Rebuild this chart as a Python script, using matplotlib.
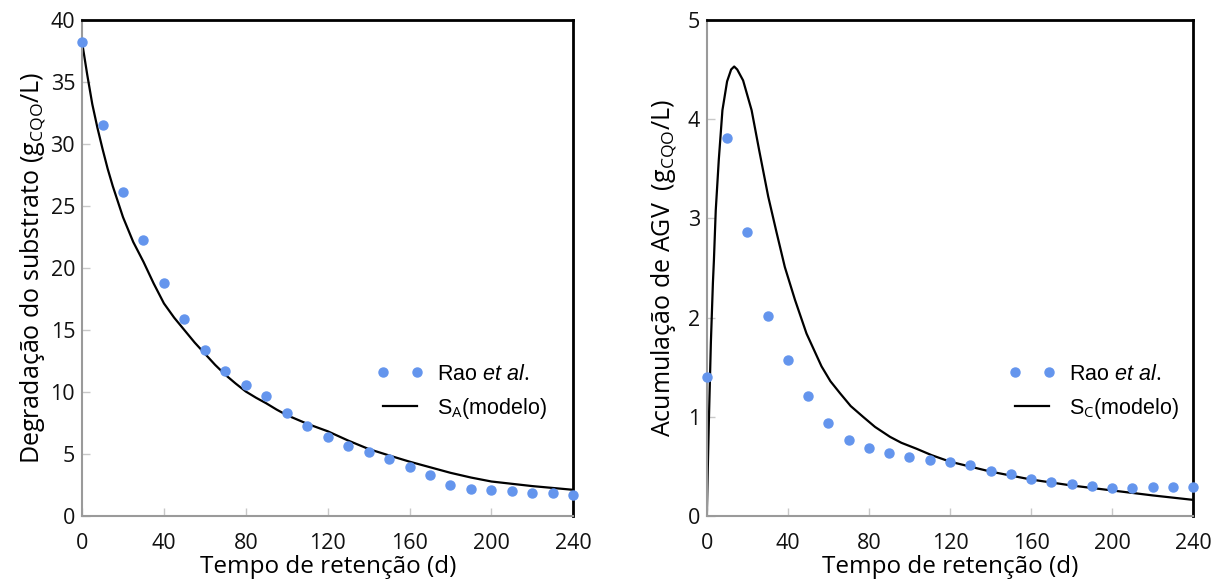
import numpy as np
import matplotlib
matplotlib.use("Agg")
import matplotlib.pyplot as plt

plt.rcParams['font.family'] = ['Open Sans', 'DejaVu Sans']
plt.rcParams['mathtext.fontset'] = 'custom'
plt.rcParams['mathtext.rm'] = 'Open Sans'
plt.rcParams['mathtext.it'] = 'Liberation Sans:italic'

# experimental points (Rao et al.), every 10 days
t_data = [0, 10, 20, 30, 40, 50, 60, 70, 80, 90, 100, 110, 120,
          130, 140, 150, 160, 170, 180, 190, 200, 210, 220, 230, 240]
sa_data = [38.2, 31.5, 26.1, 22.3, 18.8, 15.9, 13.4, 11.7, 10.6, 9.7, 8.3, 7.3, 6.4,
           5.7, 5.2, 4.6, 4.0, 3.3, 2.5, 2.2, 2.1, 2.0, 1.9, 1.85, 1.75]
sc_data = [1.40, 3.81, 2.86, 2.02, 1.57, 1.21, 0.94, 0.77, 0.69, 0.64, 0.60, 0.57, 0.55,
           0.52, 0.46, 0.43, 0.38, 0.35, 0.32, 0.30, 0.28, 0.28, 0.29, 0.29, 0.29]

# model curves
t_sa = [0, 2.5, 5, 7.5, 10, 12.5, 15, 20, 25, 30, 35, 40, 45, 50, 55, 60, 65, 70, 75,
        80, 85, 90, 95, 100, 110, 120, 130, 140, 150, 160, 170, 180, 190, 200, 220, 240]
sa_model = [38.2, 35.6, 33.2, 31.3, 29.6, 28.0, 26.6, 24.1, 22.1, 20.5, 18.75, 17.15,
            16.0, 15.0, 14.0, 13.1, 12.2, 11.4, 10.7, 10.05, 9.55, 9.1, 8.6, 8.15, 7.45,
            6.85, 6.1, 5.42, 4.9, 4.4, 3.95, 3.5, 3.12, 2.8, 2.43, 2.13]

t_sc = [0, 0.5, 1, 2, 3, 3.5, 4.4, 5.9, 7.7, 10, 12, 13.5, 15, 17.9, 22.1, 25.8, 30.3,
        34.4, 38.5, 43.5, 49.2, 56.6, 61, 65.7, 71, 77.2, 83, 90.4, 96, 103.5, 111, 120,
        130, 140, 150, 160, 180, 200, 220, 240]
sc_model = [0, 0.5, 0.95, 1.75, 2.35, 2.58, 3.08, 3.59, 4.09, 4.38, 4.50, 4.53, 4.50,
            4.39, 4.09, 3.69, 3.22, 2.86, 2.51, 2.18, 1.84, 1.51, 1.36, 1.24, 1.11,
            1.00, 0.90, 0.80, 0.74, 0.68, 0.615, 0.55, 0.50, 0.45, 0.41, 0.37, 0.31,
            0.26, 0.21, 0.165]

BLUE = "#6495ED"
GRAY = "#9a9a9a"

fig = plt.figure(figsize=(12.25, 5.84), dpi=100)
ax1 = fig.add_axes([0.067, 0.116, 0.401, 0.850])
ax2 = fig.add_axes([0.577, 0.116, 0.397, 0.850])


def style(ax, ymax, yticks):
    ax.set_xlim(0, 240)
    ax.set_ylim(0, ymax)
    ax.set_xticks(range(0, 241, 40))
    ax.set_yticks(yticks)
    for s in ['top', 'right']:
        ax.spines[s].set_color('black')
        ax.spines[s].set_linewidth(2)
    for s in ['left', 'bottom']:
        ax.spines[s].set_color(GRAY)
        ax.spines[s].set_linewidth(1.5)
    ax.tick_params(direction='in', length=6, width=1, color='#c8c8c8',
                   labelsize=15.5, pad=5, labelcolor='#111111')
    ax.tick_params(axis='x', pad=12)
    ax.set_xlabel('Tempo de retenção (d)', fontsize=17.5, labelpad=1)


def legend(ax, x0):
    h, l = ax.get_legend_handles_labels()
    ax.legend(h[::-1], l[::-1], loc='center left', bbox_to_anchor=(x0, 0.25),
              frameon=False, numpoints=2, handlelength=2.2,
              handletextpad=0.6, labelspacing=0.5,
              prop={'family': 'Liberation Sans', 'size': 15.5})


# left panel
ax1.plot(t_sa, sa_model, color='black', lw=1.6, label=r'S$_{\rm A}$(modelo)')
ax1.plot(t_data, sa_data, 'o', color=BLUE, ms=6.5, clip_on=False, zorder=5,
         label=r'Rao $\it{et\ al.}$')
style(ax1, 40, range(0, 41, 5))
ax1.set_ylabel(r'Degradação do substrato (g$_{\rm CQO}$/L)', fontsize=18, labelpad=2)
legend(ax1, 0.56)

# right panel
ax2.plot(t_sc, sc_model, color='black', lw=1.6, label=r'S$_{\rm C}$(modelo)')
ax2.plot(t_data, sc_data, 'o', color=BLUE, ms=6.5, clip_on=False, zorder=5,
         label=r'Rao $\it{et\ al.}$')
style(ax2, 5, range(0, 6))
ax2.set_ylabel(r'Acumulação de AGV  (g$_{\rm CQO}$/L)', fontsize=18, labelpad=6)
legend(ax2, 0.58)

fig.savefig('out.png', dpi=100)
